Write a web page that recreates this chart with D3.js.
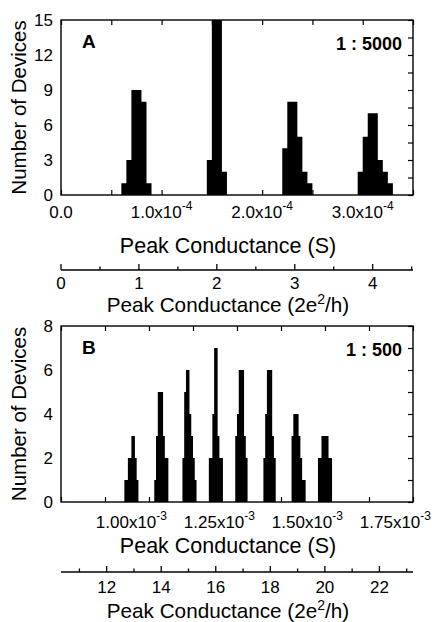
<!DOCTYPE html>
<html>
<head>
<meta charset="utf-8">
<script src="https://cdn.jsdelivr.net/npm/d3@7"></script>
<style>
  body { margin: 0; background: #fff; }
  svg text { font-family: "Liberation Sans", Arial, sans-serif; fill: #000; }
</style>
</head>
<body>
<svg id="chart" width="434" height="622"></svg>
<script>
(function () {

  const G0 = 7.748e-5;  // 2e^2/h in siemens

  // Panel A (1 : 5000) -- histogram bins of 5 uS
  const A_BIN = 5e-6;
  const A_STARTS = [60e-6, 145e-6, 220e-6, 295e-6];
  const A_COUNTS = [
    [1, 3, 9, 9, 8, 1],
    [3, 15, 15, 2],
    [4, 8, 8, 5, 2, 1],
    [2, 5, 7, 7, 3, 2, 1]
  ];
  const A_XTICKS = [0, 1e-4, 2e-4, 3e-4];
  const A_XMANT = ["0.0", "1.0x10", "2.0x10", "3.0x10"];
  const A_XEXP = ["", "-4", "-4", "-4"];
  const A_YTICKS = [0, 3, 6, 9, 12, 15];
  const A_UTICKS = [0, 1, 2, 3, 4];

  // Panel B (1 : 500)
  const B_BIN = 5e-6;
  const B_STARTS = [0.980e-3, 1.065e-3, 1.145e-3, 1.220e-3, 1.295e-3, 1.375e-3, 1.455e-3, 1.530e-3];
  const B_COUNTS = [
    [1, 1, 2, 2, 3, 3, 2, 1],
    [1, 3, 5, 5, 5, 3, 2, 2],
    [2, 5, 6, 6, 4, 3, 2, 1],
    [2, 2, 4, 7, 7, 3, 2, 2],
    [3, 4, 6, 6, 6, 3, 2],
    [2, 4, 6, 6, 6, 3, 2],
    [3, 4, 4, 4, 3, 2, 1, 1],
    [2, 2, 3, 3, 3, 3, 2, 2]
  ];
  const B_XTICKS = [1.00e-3, 1.25e-3, 1.50e-3, 1.75e-3];
  const B_XMANT = ["1.00x10", "1.25x10", "1.50x10", "1.75x10"];
  const B_XEXP = ["-3", "-3", "-3", "-3"];
  const B_YTICKS = [0, 2, 4, 6, 8];
  const B_UTICKS = [12, 14, 16, 18, 20, 22];

  const svg = d3.select("#chart");
  const L = 61, R = 413;
  const TITLE_X = 228;

  // one step outline per peak: bin edges with the count of the bin that starts there
  function toPeaks(starts, counts, w) {
    return starts.map((s, i) => {
      const pts = counts[i].map((c, j) => ({ e: s + j * w, n: c }));
      pts.push({ e: s + counts[i].length * w, n: counts[i][counts[i].length - 1] });
      return pts;
    });
  }

  function drawPanel(p) {
    const x = d3.scaleLinear().domain(p.xDomain).range([L, R]);
    const y = d3.scaleLinear().domain([0, p.yMax]).range([p.bottom, p.top]);
    const u = d3.scaleLinear().domain(p.xDomain.map(v => v / G0)).range([L, R]);

    const g = svg.append("g");

    const area = d3.area()
      .curve(d3.curveStepAfter)
      .x(d => x(d.e))
      .y0(y(0))
      .y1(d => y(d.n));

    g.selectAll("path.peak")
      .data(toPeaks(p.starts, p.counts, p.bin))
      .join("path")
      .attr("class", "peak")
      .attr("d", area)
      .attr("fill", "#000");

    // inward ticks on bottom, top, right
    const minorX = d3.range(p.xDomain[0], p.xDomain[1] + 1e-12, p.xMinor);
    g.append("g").attr("transform", `translate(0,${p.bottom})`)
      .call(d3.axisBottom(x).tickValues(minorX).tickSize(-5).tickFormat(""))
      .call(a => a.select(".domain").remove());
    g.append("g").attr("transform", `translate(0,${p.top})`)
      .call(d3.axisTop(x).tickValues(minorX).tickSize(-5).tickFormat(""))
      .call(a => a.select(".domain").remove());
    g.append("g").attr("transform", `translate(${R},0)`)
      .call(d3.axisRight(y).tickValues(d3.range(0, p.yMax + 1e-9, p.yMinor)).tickSize(-5).tickFormat(""))
      .call(a => a.select(".domain").remove());

    g.selectAll(".tick line").attr("stroke", "#000").attr("stroke-width", 1.2);

    // frame
    g.append("rect")
      .attr("x", L).attr("y", p.top)
      .attr("width", R - L).attr("height", p.bottom - p.top)
      .attr("fill", "none").attr("stroke", "#000").attr("stroke-width", 1.4);

    // y tick labels
    g.selectAll("text.yl")
      .data(p.yTicks)
      .join("text")
      .attr("class", "yl")
      .attr("x", L - 8)
      .attr("y", d => y(d))
      .attr("dy", "0.36em")
      .attr("text-anchor", "end")
      .style("font-size", "17px")
      .text(d => d);

    // x tick labels (with superscript exponent)
    const xl = g.selectAll("text.xl")
      .data(p.xTicks.map((v, i) => ({ v, m: p.xMant[i], e: p.xExp[i] })))
      .join("text")
      .attr("class", "xl")
      .attr("x", d => x(d.v))
      .attr("y", p.xLabelY)
      .attr("text-anchor", "middle")
      .style("font-size", "17px");
    xl.append("tspan").text(d => d.m);
    xl.filter(d => d.e !== "")
      .append("tspan")
      .attr("dy", -8)
      .style("font-size", "12px")
      .text(d => d.e);

    g.append("text")
      .attr("x", TITLE_X)
      .attr("y", p.titleY)
      .attr("text-anchor", "middle")
      .style("font-size", "21.5px")
      .text("Peak Conductance (S)");

    // y title
    g.append("text")
      .attr("transform", `translate(26,${(p.top + p.bottom) / 2}) rotate(-90)`)
      .attr("text-anchor", "middle")
      .style("font-size", "20.5px")
      .text("Number of Devices");

    // panel letter and dilution
    g.append("text")
      .attr("x", 82).attr("y", p.top + 28)
      .style("font-size", "19px").style("font-weight", "bold")
      .text(p.letter);
    g.append("text")
      .attr("x", 402).attr("y", p.top + 30)
      .attr("text-anchor", "end")
      .style("font-size", "18px").style("font-weight", "bold")
      .text(p.ratio);

    // secondary axis in units of 2e^2/h
    const ua = g.append("g").attr("transform", `translate(0,${p.uAxisY})`);
    ua.append("line")
      .attr("x1", L).attr("x2", R)
      .attr("stroke", "#000").attr("stroke-width", 1.3);
    const uDom = u.domain();
    const uMinor = d3.range(Math.ceil(uDom[0] / p.uMinor) * p.uMinor, uDom[1] + 1e-9, p.uMinor)
      .filter(v => !p.uTicks.some(t => Math.abs(t - v) < 1e-9));
    ua.selectAll("line.umaj")
      .data(p.uTicks)
      .join("line")
      .attr("class", "umaj")
      .attr("x1", d => u(d)).attr("x2", d => u(d))
      .attr("y1", 0).attr("y2", -6)
      .attr("stroke", "#000").attr("stroke-width", 1.3);
    ua.selectAll("line.umin")
      .data(uMinor)
      .join("line")
      .attr("class", "umin")
      .attr("x1", d => u(d)).attr("x2", d => u(d))
      .attr("y1", 0).attr("y2", -3.5)
      .attr("stroke", "#000").attr("stroke-width", 1.3);
    ua.selectAll("text")
      .data(p.uTicks)
      .join("text")
      .attr("x", d => u(d))
      .attr("y", p.uLabelY - p.uAxisY)
      .attr("text-anchor", "middle")
      .style("font-size", "17px")
      .text(d => d);

    const ut = g.append("text")
      .attr("x", TITLE_X)
      .attr("y", p.uTitleY)
      .attr("text-anchor", "middle")
      .style("font-size", "20.7px");
    ut.append("tspan").text("Peak Conductance (2e");
    ut.append("tspan").attr("dy", -8).style("font-size", "14px").text("2");
    ut.append("tspan").attr("dy", 8).text("/h)");
  }

  drawPanel({
    letter: "A", ratio: "1 : 5000",
    top: 20, bottom: 195,
    xDomain: [0, 3.5e-4], xMinor: 0.5e-4,
    yMax: 15, yMinor: 1.5,
    starts: A_STARTS, counts: A_COUNTS, bin: A_BIN,
    xTicks: A_XTICKS, xMant: A_XMANT, xExp: A_XEXP,
    yTicks: A_YTICKS,
    uTicks: A_UTICKS, uMinor: 0.5,
    xLabelY: 218, titleY: 253,
    uAxisY: 270, uLabelY: 289, uTitleY: 312
  });

  drawPanel({
    letter: "B", ratio: "1 : 500",
    top: 326, bottom: 502,
    xDomain: [0.8e-3, 1.8e-3], xMinor: 0.125e-3,
    yMax: 8, yMinor: 1,
    starts: B_STARTS, counts: B_COUNTS, bin: B_BIN,
    xTicks: B_XTICKS, xMant: B_XMANT, xExp: B_XEXP,
    yTicks: B_YTICKS,
    uTicks: B_UTICKS, uMinor: 1,
    xLabelY: 528, titleY: 553,
    uAxisY: 572, uLabelY: 593, uTitleY: 618
  });

})();
</script>
</body>
</html>
